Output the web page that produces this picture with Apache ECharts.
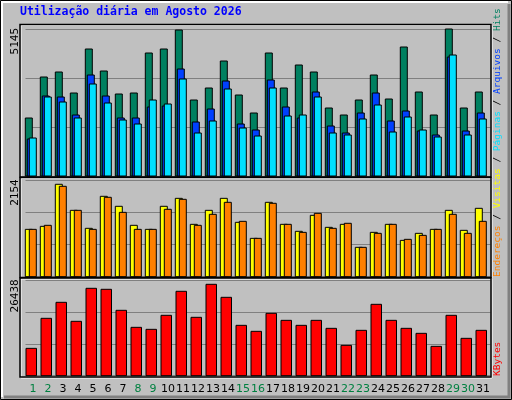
<!DOCTYPE html>
<html><head><meta charset="utf-8">
<script src="https://cdn.jsdelivr.net/npm/echarts@6/dist/echarts.min.js"></script>
<style>html,body{margin:0;padding:0;background:#c0c0c0}#c{width:512px;height:400px}</style>
</head><body><div id="c"></div>
<script>
const days = ['1','2','3','4','5','6','7','8','9','10','11','12','13','14','15','16','17','18','19','20','21','22','23','24','25','26','27','28','29','30','31'];
const weekend = ['1','2','8','9','15','16','22','23','29','30'];
const hits =  [2030,3465,3640,2905,4445,3675,2870,2905,4305,4445,5110,2660,3080,4025,2835,2205,4305,3080,3885,3640,2380,2135,2660,3535,2695,4515,2940,2135,5145,2380,2940];
const files = [1295,2800,2765,2135,3535,2800,2030,2030,2415,2450,3745,1890,2345,3325,1820,1610,3360,2415,2030,2940,1750,1505,2205,2905,1925,2275,1575,1435,4165,1575,2205];
const pages = [1330,2765,2590,2030,3220,2555,1960,1820,2660,2520,3395,1505,1925,3045,1680,1400,3080,2100,2135,2765,1505,1435,1995,2485,1540,2065,1610,1365,4235,1435,1995];
const visits = [1058,1125,2065,1483,1081,1796,1573,1148,1058,1573,1751,1170,1483,1751,1215,857,1662,1170,1014,1371,1103,1170,656,991,1170,812,969,1058,1483,1036,1528];
const addrs =  [1058,1148,2020,1483,1058,1774,1438,1058,1058,1506,1729,1148,1394,1662,1237,857,1640,1170,991,1416,1081,1193,656,969,1170,835,924,1058,1394,969,1237];
const kbytes = [7580,15900,20337,15068,24219,23942,18118,13404,12849,16732,23387,16177,25329,21723,13958,12294,17286,15345,13958,15345,13126,8412,12572,19782,15345,13126,11740,8135,16732,10353,12572];
const maxLabels = ['5145','2154','26438'];
const title = 'Utilização diária em Agosto 2026';

const ch = echarts.init(document.getElementById('c'));
const grids = [
  {left:25.5, width:465, top:29, height:147},
  {left:25.5, width:465, top:180.3, height:96.4},
  {left:25.5, width:465, top:280.3, height:95.4}
];
const maxes = maxLabels.map(Number);
function barSeries(name, data, gi, offset, w, color){
  return {type:'custom', name, xAxisIndex:gi, yAxisIndex:gi, data:data.map((v,i)=>[i,v]),
    renderItem:(p,api)=>{
      const top = api.coord([api.value(0), api.value(1)]);
      const base = api.coord([api.value(0), 0]);
      return {type:'rect', shape:{x:top[0]+offset, y:top[1], width:w, height:base[1]-top[1]},
        style:{fill:color, stroke:'#000', lineWidth:1}};
    }};
}
const xAxes = grids.map((g,i)=>({type:'category', gridIndex:i, data:days, boundaryGap:true,
  axisLine:{show:false}, axisTick:{show:false}, splitLine:{show:false},
  axisLabel: i===2 ? {show:true, interval:0, margin:8, fontFamily:'DejaVu Sans', fontSize:11,
    formatter:v=> weekend.includes(v) ? '{w|'+v+'}' : '{d|'+v+'}',
    rich:{w:{color:'#008040',fontFamily:'DejaVu Sans',fontSize:11}, d:{color:'#000',fontFamily:'DejaVu Sans',fontSize:11}}} : {show:false}}));
const yAxes = grids.map((g,i)=>({type:'value', gridIndex:i, min:0, max:maxes[i], interval:maxes[i]/3,
  axisLine:{show:false}, axisTick:{show:false}, axisLabel:{show:false},
  splitLine:{show:true, lineStyle:{color:'#808080', width:1}}}));

const frames = [[20,24.5,471,152.5],[20,177.5,471,100],[20,278,471,99]];
const graphic = [
  {type:'rect', shape:{x:0.5,y:0.5,width:511,height:399}, style:{fill:'none', stroke:'#000', lineWidth:1}, z:-10},
  {type:'polyline', shape:{points:[[2,397],[2,2],[508,2]]}, style:{fill:'none', stroke:'#fff', lineWidth:2}},
  {type:'polyline', shape:{points:[[509,4],[509,397],[4,397]]}, style:{fill:'none', stroke:'#808080', lineWidth:3}},
  {type:'text', left:20, top:6, style:{text:title, fill:'#0000ff', font:'bold 11.5px "DejaVu Sans Mono"'}},
  {type:'text', x:498, y:277, rotation:Math.PI/2, style:{
    text:'{e|Endereços} {s|/} {v|Visitas} {s|/} {p|Páginas} {s|/} {a|Arquivos} {s|/} {h|Hits}',
    font:'9.5px "DejaVu Sans Mono"', verticalAlign:'middle', align:'left',
    rich:{e:{fill:'#ff8000'},v:{fill:'#ffff00'},p:{fill:'#00e0ff'},a:{fill:'#0040ff'},h:{fill:'#008060'},s:{fill:'#000'}}}},
  {type:'text', x:498, y:376, rotation:Math.PI/2, style:{text:'KBytes', fill:'#ff0000', font:'9.5px "DejaVu Sans Mono"', verticalAlign:'middle', align:'left'}}
];
frames.forEach(f=>{
  graphic.push({type:'rect', shape:{x:f[0]+1,y:f[1]+1,width:f[2],height:f[3]}, style:{fill:'none', stroke:'#fff', lineWidth:1}, z:50});
  graphic.push({type:'rect', shape:{x:f[0],y:f[1],width:f[2],height:f[3]}, style:{fill:'none', stroke:'#000', lineWidth:1.5}, z:51});
});
const labY = [29,180.3,280.3];
maxLabels.forEach((t,i)=>graphic.push({type:'text', x:15, y:labY[i]-1, rotation:Math.PI/2,
  style:{text:t, fill:'#000', font:'11px "DejaVu Sans Mono"', align:'right', verticalAlign:'middle'}}));

ch.setOption({
  backgroundColor:'#c0c0c0', animation:false,
  grid:grids, xAxis:xAxes, yAxis:yAxes,
  series:[
    barSeries('Hits', hits, 0, -7.7, 7, '#008060'),
    barSeries('Arquivos', files, 0, -5.7, 7, '#0040ff'),
    barSeries('Páginas', pages, 0, -3.7, 7, '#00e0ff'),
    barSeries('Visitas', visits, 1, -7.7, 7, '#ffff00'),
    barSeries('Endereços', addrs, 1, -3.7, 7, '#ff8000'),
    barSeries('KBytes', kbytes, 2, -7, 10.5, '#ff0000')
  ],
  graphic
});
</script></body></html>
